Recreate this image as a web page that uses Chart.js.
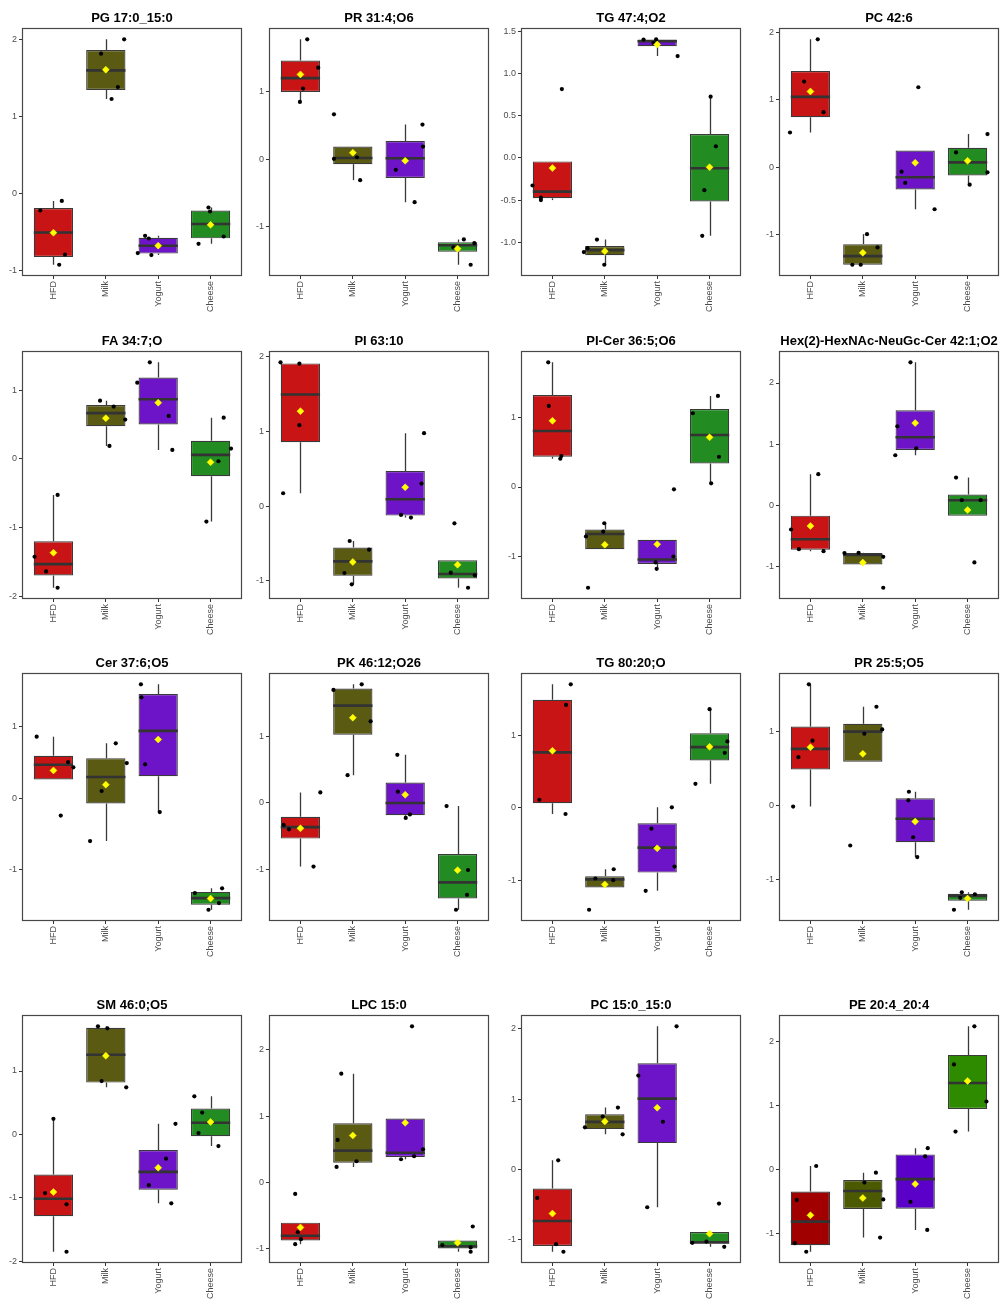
<!DOCTYPE html>
<html>
<head>
<meta charset="utf-8">
<script src="https://cdn.jsdelivr.net/npm/chart.js@4.4.1/dist/chart.umd.min.js"></script>
<style>
  html, body { margin: 0; padding: 0; background: #fff; overflow: hidden; }
  #wrap { position: relative; width: 1002px; height: 1310px; }
  .cell { position: absolute; }
</style>
</head>
<body>
<div id="wrap"></div>
<script>
const groups = ['HFD', 'Milk', 'Yogurt', 'Cheese'];
const titles = ['PG 17:0_15:0', 'PR 31:4;O6', 'TG 47:4;O2', 'PC 42:6',
    'FA 34:7;O', 'PI 63:10', 'PI-Cer 36:5;O6', 'Hex(2)-HexNAc-NeuGc-Cer 42:1;O2',
    'Cer 37:6;O5', 'PK 46:12;O26', 'TG 80:20;O', 'PR 25:5;O5',
    'SM 46:0;O5', 'LPC 15:0', 'PC 15:0_15:0', 'PE 20:4_20:4'];
const tickSteps = [1, 1, 0.5, 1, 1, 1, 1, 1, 1, 1, 1, 1, 1, 1, 1, 1];

// sample values, one row of four per group (HFD, Milk, Yogurt, Cheese)
const y01 = [[-0.225, -0.10, -0.797, -0.93], [1.814, 2.0, 1.381, 1.225], [-0.779, -0.554, -0.589, -0.805], [-0.186, -0.238, -0.658, -0.563]];
const y02 = [[1.769, 1.351, 1.042, 0.845], [0.663, 0.005, 0.029, -0.31], [0.511, 0.187, -0.157, -0.634], [-1.184, -1.238, -1.302, -1.558]];
const y03 = [[0.819, -0.327, -0.472, -0.5], [-0.969, -1.071, -1.118, -1.268], [1.406, 1.409, 1.366, 1.21], [0.728, 0.138, -0.382, -0.925]];
const y04 = [[1.892, 1.266, 0.813, 0.512], [-0.995, -1.192, -1.448, -1.448], [1.182, -0.069, -0.236, -0.626], [0.217, 0.488, -0.079, -0.261]];
const y05 = [[-0.523, -1.422, -1.635, -1.872], [0.847, 0.76, 0.571, 0.189], [1.403, 1.108, 0.624, 0.131], [0.6, 0.15, -0.034, -0.91]];
const y06 = [[1.927, 1.909, 1.086, 0.174], [-0.465, -0.581, -0.894, -1.046], [0.979, 0.304, -0.116, -0.152], [-0.228, -0.89, -0.925, -1.091]];
const y07 = [[1.803, 1.173, 0.447, 0.409], [-0.524, -0.644, -0.716, -1.457], [-0.034, -1.005, -1.091, -1.183], [1.317, 1.067, 0.438, 0.053]];
const y08 = [[0.511, -0.391, -0.712, -0.745], [-0.777, -0.772, -0.837, -1.342], [2.337, 1.293, 0.935, 0.821], [0.457, 0.087, 0.087, -0.929]];
const y09 = [[0.856, 0.502, 0.428, -0.245], [0.763, 0.488, 0.098, -0.6], [1.586, 1.405, 0.47, -0.195], [-1.326, -1.26, -1.465, -1.558]];
const y10 = [[0.155, -0.334, -0.399, -0.958], [1.776, 1.692, 1.222, 0.414], [0.718, 0.165, -0.175, -0.229], [-0.05, -1.01, -1.382, -1.606]];
const y11 = [[1.706, 1.421, 0.11, -0.087], [-0.851, -0.979, -1.002, -1.411], [0.005, -0.29, -0.814, -1.149], [1.363, 0.917, 0.759, 0.331]];
const y12 = [[1.638, 0.875, 0.652, -0.018], [1.335, 1.027, 0.969, -0.545], [0.183, 0.067, -0.433, -0.701], [-1.179, -1.205, -1.254, -1.415]];
const y13 = [[0.246, -0.925, -1.103, -1.85], [1.704, 1.673, 0.842, 0.742], [0.167, -0.382, -0.8, -1.087], [0.601, 0.345, 0.021, -0.183]];
const y14 = [[-0.176, -0.755, -0.861, -0.936], [1.641, 0.639, 0.317, 0.232], [2.355, 0.498, 0.393, 0.347], [-0.669, -0.95, -0.985, -1.05]];
const y15 = [[0.127, -0.409, -1.067, -1.175], [0.879, 0.752, 0.597, 0.498], [2.036, 1.335, 0.677, -0.541], [-0.489, -1.048, -1.03, -1.105]];
const y16 = [[0.057, -0.474, -1.144, -1.278], [-0.046, -0.201, -0.464, -1.057], [0.335, 0.206, -0.5, -0.938], [2.232, 1.639, 1.062, 0.593]];

// horizontal jitter of each point, in category units
const j01 = [[-0.25, 0.16, 0.22, 0.11], [-0.09, 0.35, 0.23, 0.11], [-0.39, -0.25, -0.18, -0.13], [-0.04, -0.01, -0.23, 0.25]];
const j02 = [[0.13, 0.34, 0.05, -0.01], [-0.36, -0.36, 0.08, 0.14], [0.33, 0.34, -0.18, 0.18], [0.12, 0.32, -0.08, 0.25]];
const j03 = [[0.18, -0.38, -0.22, -0.22], [-0.15, -0.33, -0.40, -0.01], [-0.26, -0.02, -0.07, 0.39], [0.02, 0.12, -0.10, -0.14]];
const j04 = [[0.14, -0.12, 0.25, -0.39], [0.08, 0.28, -0.2, -0.04], [0.06, -0.26, -0.19, 0.37], [-0.22, 0.38, 0.38, 0.04]];
const j05 = [[0.08, -0.36, -0.14, 0.08], [-0.11, 0.15, 0.37, 0.07], [-0.16, -0.40, 0.20, 0.27], [0.25, 0.39, 0.15, -0.08]];
const j06 = [[-0.38, -0.02, -0.02, -0.33], [-0.06, 0.31, -0.16, -0.02], [0.36, 0.31, -0.08, 0.11], [-0.06, -0.13, 0.33, 0.20]];
const j07 = [[-0.08, -0.07, 0.17, 0.15], [-0.01, -0.03, -0.36, -0.32], [0.32, 0.31, -0.03, -0.01], [0.16, -0.32, 0.18, 0.03]];
const j08 = [[0.15, -0.37, -0.22, 0.25], [-0.35, -0.08, 0.39, 0.39], [-0.09, -0.34, 0.02, -0.38], [-0.22, -0.11, 0.25, 0.13]];
const j09 = [[-0.32, 0.28, 0.38, 0.14], [0.19, 0.40, -0.08, -0.30], [-0.33, -0.32, -0.25, 0.03], [-0.30, 0.22, 0.16, -0.04]];
const j10 = [[0.38, -0.32, -0.22, 0.25], [0.17, -0.37, 0.34, -0.10], [-0.15, -0.14, 0.09, 0.01], [-0.21, 0.20, 0.18, -0.03]];
const j11 = [[0.35, 0.26, -0.25, 0.25], [0.17, -0.18, 0.16, -0.30], [0.28, -0.11, 0.33, -0.22], [0.0, 0.34, 0.29, -0.27]];
const j12 = [[-0.03, 0.04, -0.23, -0.33], [0.26, 0.37, 0.03, -0.24], [-0.12, -0.13, -0.04, 0.04], [-0.11, 0.14, -0.14, -0.26]];
const j13 = [[0.0, -0.16, 0.25, 0.25], [-0.15, 0.03, -0.08, 0.39], [0.33, 0.15, -0.18, 0.25], [-0.31, -0.16, -0.23, 0.15]];
const j14 = [[-0.10, -0.05, 0.01, -0.10], [-0.22, -0.29, 0.07, -0.31], [0.13, 0.34, 0.17, -0.08], [0.29, -0.29, 0.25, 0.25]];
const j15 = [[0.11, -0.29, 0.07, 0.21], [0.25, -0.04, -0.38, 0.34], [0.37, -0.36, 0.11, -0.19], [0.18, -0.33, -0.06, 0.28]];
const j16 = [[0.11, -0.26, -0.30, -0.08], [0.25, 0.03, 0.39, 0.33], [0.24, 0.19, -0.09, 0.23], [0.13, -0.26, 0.36, -0.23]];

const panelValues = [y01, y02, y03, y04, y05, y06, y07, y08, y09, y10, y11, y12, y13, y14, y15, y16];
const panelJitter = [j01, j02, j03, j04, j05, j06, j07, j08, j09, j10, j11, j12, j13, j14, j15, j16];

const groupColors = ['#c81414', '#5a5a12', '#6e14c8', '#228b22'];
const lastColors = ['#a00000', '#4b5a00', '#5a00c8', '#2e8b00'];

Chart.defaults.font.family = '"Liberation Sans", Arial, sans-serif';
Chart.defaults.animation = false;

var frameLefts = [22, 269, 521, 779];
var frameTops = [28, 351, 673, 1015];

function quantile(s, p) {
    var h = (s.length - 1) * p, lo = Math.floor(h);
    var next = lo + 1 < s.length ? s[lo + 1] : s[lo];
    return s[lo] + (h - lo) * (next - s[lo]);
}

function boxStats(vals) {
    var s = vals.slice().sort(function (a, b) { return a - b; });
    var q1 = quantile(s, 0.25), med = quantile(s, 0.5), q3 = quantile(s, 0.75);
    var iqr = q3 - q1;
    var inside = s.filter(function (v) { return v >= q1 - 1.5 * iqr && v <= q3 + 1.5 * iqr; });
    return {
        q1: q1, med: med, q3: q3,
        lo: Math.min(q1, inside[0]),
        hi: Math.max(q3, inside[inside.length - 1]),
        mean: s.reduce(function (a, b) { return a + b; }, 0) / s.length
    };
}

// whiskers under the boxes, medians over them, frame on top
function boxParts(stats) {
    return {
        id: 'boxParts',
        beforeDatasetsDraw: function (chart) {
            var ctx = chart.ctx, x = chart.scales.x, y = chart.scales.y;
            ctx.save();
            ctx.strokeStyle = '#3a3a3a';
            ctx.lineWidth = 1.3;
            stats.forEach(function (s, i) {
                var px = Math.round(x.getPixelForValue(i + 1)) + 0.5;
                ctx.beginPath();
                ctx.moveTo(px, y.getPixelForValue(s.q3));
                ctx.lineTo(px, y.getPixelForValue(s.hi));
                ctx.moveTo(px, y.getPixelForValue(s.q1));
                ctx.lineTo(px, y.getPixelForValue(s.lo));
                ctx.stroke();
            });
            ctx.restore();
        },
        afterDatasetDraw: function (chart, args) {
            if (args.index !== 0) return;
            var ctx = chart.ctx, y = chart.scales.y;
            var bars = chart.getDatasetMeta(0).data;
            ctx.save();
            ctx.strokeStyle = '#333';
            ctx.lineWidth = 2.6;
            stats.forEach(function (s, i) {
                var b = bars[i], py = y.getPixelForValue(s.med);
                ctx.beginPath();
                ctx.moveTo(b.x - b.width / 2, py);
                ctx.lineTo(b.x + b.width / 2, py);
                ctx.stroke();
            });
            ctx.restore();
        },
        afterDraw: function (chart) {
            var a = chart.chartArea, ctx = chart.ctx;
            ctx.save();
            ctx.strokeStyle = '#484848';
            ctx.lineWidth = 1.2;
            ctx.strokeRect(Math.round(a.left) + 0.5, Math.round(a.top) + 0.5,
                Math.round(a.right - a.left) - 1, Math.round(a.bottom - a.top) - 1);
            ctx.restore();
        }
    };
}

var wrap = document.getElementById('wrap');

titles.forEach(function (title, p) {
    var vals = panelValues[p], jit = panelJitter[p], step = tickSteps[p];
    var colors = p === 15 ? lastColors : groupColors;
    var stats = vals.map(boxStats);
    var all = [].concat.apply([], vals);
    var lo = Math.min.apply(null, all), hi = Math.max.apply(null, all);
    var pad = (hi - lo) * 0.05;

    var cell = document.createElement('div');
    cell.className = 'cell';
    cell.style.left = (frameLefts[p % 4] - 22) + 'px';
    cell.style.top = (frameTops[Math.floor(p / 4)] - 28) + 'px';
    var canvas = document.createElement('canvas');
    canvas.width = 246;
    canvas.height = 322;
    cell.appendChild(canvas);
    wrap.appendChild(cell);

    var points = [];
    vals.forEach(function (g, gi) {
        g.forEach(function (v, k) { points.push({x: gi + 1 + jit[gi][k], y: v}); });
    });

    new Chart(canvas.getContext('2d'), {
        type: 'bar',
        data: {
            datasets: [{
                type: 'bar',
                data: stats.map(function (s, i) { return {x: i + 1, y: [s.q1, s.q3]}; }),
                backgroundColor: colors,
                borderColor: '#3a3a3a',
                borderWidth: 1.2,
                borderSkipped: false,
                categoryPercentage: 0.8,
                barPercentage: 0.9375,
                order: 3
            }, {
                type: 'scatter',
                data: points,
                pointRadius: 2.1,
                pointHoverRadius: 2.1,
                pointBackgroundColor: '#000',
                pointBorderWidth: 0,
                order: 2
            }, {
                type: 'scatter',
                data: stats.map(function (s, i) { return {x: i + 1, y: s.mean}; }),
                pointStyle: 'rectRot',
                pointRadius: 3.5,
                pointHoverRadius: 3.5,
                pointBackgroundColor: '#ffff00',
                pointBorderColor: '#ffff00',
                pointBorderWidth: 0.5,
                order: 1
            }]
        },
        options: {
            responsive: false,
            layout: {padding: {left: 0, right: 4, top: 0, bottom: 0}},
            plugins: {
                legend: {display: false},
                tooltip: {enabled: false},
                title: {
                    display: true,
                    text: title,
                    fullSize: false,
                    color: '#000',
                    font: {size: 13, weight: 'bold'},
                    padding: {top: 10.5, bottom: 2}
                }
            },
            scales: {
                x: {
                    type: 'linear',
                    min: 0.4,
                    max: 4.6,
                    offset: false,
                    grid: {display: true, offset: false, drawOnChartArea: false, drawTicks: true, tickLength: 3, color: '#333'},
                    border: {display: false},
                    afterBuildTicks: function (s) {
                        s.ticks = groups.map(function (g, i) { return {value: i + 1}; });
                    },
                    afterFit: function (s) { s.height = 46; },
                    ticks: {
                        autoSkip: false,
                        minRotation: 90,
                        maxRotation: 90,
                        padding: 2,
                        color: '#4d4d4d',
                        font: {size: 9},
                        callback: function (v) { return groups[Math.round(v) - 1]; }
                    }
                },
                y: {
                    min: lo - pad,
                    max: hi + pad,
                    beginAtZero: false,
                    grid: {display: true, drawOnChartArea: false, drawTicks: true, tickLength: 3, color: '#333'},
                    border: {display: false},
                    afterBuildTicks: function (s) {
                        var out = [];
                        for (var v = Math.ceil(s.min / step) * step; v <= s.max + 1e-9; v += step) {
                            out.push({value: +v.toFixed(6)});
                        }
                        s.ticks = out;
                    },
                    afterFit: function (s) { s.width = 22; },
                    ticks: {
                        padding: 2,
                        color: '#4d4d4d',
                        font: {size: 9},
                        callback: function (v) { return step < 1 ? v.toFixed(1) : String(Math.round(v)); }
                    }
                }
            }
        },
        plugins: [boxParts(stats)]
    });
});
</script>
</body>
</html>
